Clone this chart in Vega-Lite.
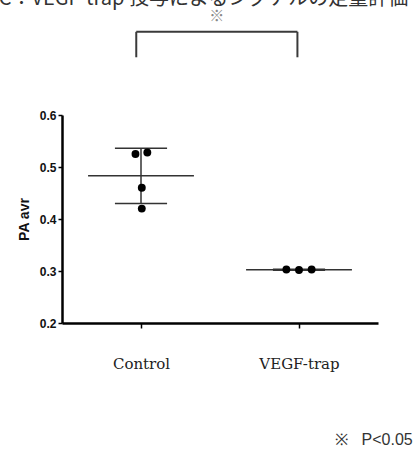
{
  "$schema": "https://vega.github.io/schema/vega-lite/v6.json",
  "width": 316,
  "height": 208,
  "autosize": {"type": "none"},
  "padding": {"left": 62, "top": 115, "right": 37, "bottom": 132},
  "background": "white",
  "config": {"view": {"stroke": null}},
  "datasets": {
    "points": [
      {"group": "Control", "pos": 0.965, "value": 0.525},
      {"group": "Control", "pos": 1.04, "value": 0.528},
      {"group": "Control", "pos": 1.005, "value": 0.46},
      {"group": "Control", "pos": 1.005, "value": 0.42},
      {"group": "VEGF-trap", "pos": 1.92, "value": 0.303},
      {"group": "VEGF-trap", "pos": 2.0, "value": 0.302},
      {"group": "VEGF-trap", "pos": 2.08, "value": 0.303}
    ],
    "lines": [
      {"group": "Control", "stat": "mean", "from": 0.665, "to": 1.335, "value": 0.483},
      {"group": "Control", "stat": "sd+", "from": 0.835, "to": 1.165, "value": 0.536},
      {"group": "Control", "stat": "sd-", "from": 0.835, "to": 1.165, "value": 0.43},
      {"group": "VEGF-trap", "stat": "mean", "from": 1.665, "to": 2.335, "value": 0.3025},
      {"group": "VEGF-trap", "stat": "sd+", "from": 1.835, "to": 2.165, "value": 0.3035},
      {"group": "VEGF-trap", "stat": "sd-", "from": 1.835, "to": 2.165, "value": 0.3015}
    ],
    "whisker": [
      {"group": "Control", "pos": 1.0, "low": 0.43, "high": 0.536}
    ],
    "bracket": [
      {"x": 0.97, "x2": 0.97, "y": 0.711, "y2": 0.76},
      {"x": 0.97, "x2": 1.99, "y": 0.76, "y2": 0.76},
      {"x": 1.99, "x2": 1.99, "y": 0.711, "y2": 0.76}
    ],
    "notes": [
      {"x": 1.48, "y": 0.79, "label": "※", "kind": "star"}
    ],
    "footnote": [
      {"x": 2.72, "y": -0.025, "label": "※\u00a0\u00a0\u00a0P<0.05"}
    ],
    "heading": [
      {"x": 0.1, "y": 0.8125, "label": "C：VEGF-trap 投与によるシグナルの定量評価"}
    ]
  },
  "layer": [
    {
      "data": {"name": "lines"},
      "mark": {"type": "rule", "color": "#333", "strokeWidth": 1.5},
      "encoding": {
        "x": {
          "field": "from", "type": "quantitative",
          "scale": {"domain": [0.5, 2.5], "nice": false, "zero": false},
          "axis": {
            "values": [1, 2],
            "labelExpr": "datum.value == 1 ? 'Control' : 'VEGF-trap'",
            "title": null,
            "grid": false,
            "domainColor": "#000",
            "domainWidth": 2.5,
            "tickColor": "#000",
            "tickWidth": 1.5,
            "tickSize": 5,
            "labelFont": "DejaVu Serif",
            "labelFontSize": 15,
            "labelColor": "#222",
            "labelPadding": 28
          }
        },
        "x2": {"field": "to"},
        "y": {
          "field": "value", "type": "quantitative",
          "scale": {"domain": [0.2, 0.6], "nice": false, "zero": false},
          "axis": {
            "values": [0.2, 0.3, 0.4, 0.5, 0.6],
            "format": ".1f",
            "title": "PA avr",
            "titleFont": "Liberation Sans",
            "titleFontSize": 14,
            "titleFontWeight": "bold",
            "titleColor": "#111",
            "titlePadding": 8,
            "grid": false,
            "domainColor": "#000",
            "domainWidth": 2.5,
            "tickColor": "#000",
            "tickWidth": 1.5,
            "tickSize": 4,
            "labelFont": "Liberation Sans",
            "labelFontSize": 12,
            "labelFontWeight": "bold",
            "labelColor": "#111",
            "labelPadding": 2
          }
        }
      }
    },
    {
      "data": {"name": "whisker"},
      "mark": {"type": "rule", "color": "#333", "strokeWidth": 1.5},
      "encoding": {
        "x": {"field": "pos", "type": "quantitative"},
        "y": {"field": "low", "type": "quantitative"},
        "y2": {"field": "high"}
      }
    },
    {
      "data": {"name": "points"},
      "mark": {"type": "point", "filled": true, "shape": "circle", "color": "#000", "size": 62, "opacity": 1},
      "encoding": {
        "x": {"field": "pos", "type": "quantitative"},
        "y": {"field": "value", "type": "quantitative"}
      }
    },
    {
      "data": {"name": "bracket"},
      "mark": {"type": "rule", "color": "#3a3a3a", "strokeWidth": 2, "clip": false},
      "encoding": {
        "x": {"field": "x", "type": "quantitative"},
        "x2": {"field": "x2"},
        "y": {"field": "y", "type": "quantitative"},
        "y2": {"field": "y2"}
      }
    },
    {
      "data": {"name": "notes"},
      "mark": {"type": "text", "color": "#888", "fontSize": 15, "fontWeight": "bold", "font": "Noto Sans CJK JP", "align": "center", "baseline": "middle"},
      "encoding": {
        "x": {"field": "x", "type": "quantitative"},
        "y": {"field": "y", "type": "quantitative"},
        "text": {"field": "label"}
      }
    },
    {
      "data": {"name": "footnote"},
      "mark": {"type": "text", "color": "#333", "fontSize": 16, "font": "Liberation Sans", "align": "right", "baseline": "middle"},
      "encoding": {
        "x": {"field": "x", "type": "quantitative"},
        "y": {"field": "y", "type": "quantitative"},
        "text": {"field": "label"}
      }
    },
    {
      "data": {"name": "heading"},
      "mark": {"type": "text", "color": "#333", "fontSize": 20, "font": "Noto Sans CJK JP", "align": "left", "baseline": "alphabetic"},
      "encoding": {
        "x": {"field": "x", "type": "quantitative"},
        "y": {"field": "y", "type": "quantitative"},
        "text": {"field": "label"}
      }
    }
  ]
}
